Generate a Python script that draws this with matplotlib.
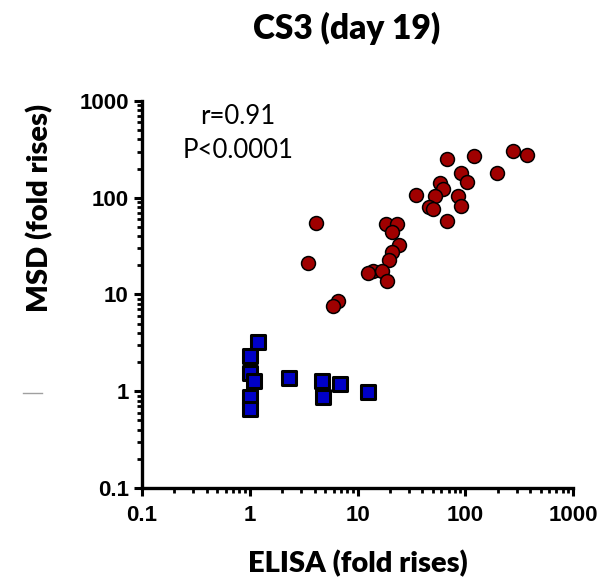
import matplotlib
matplotlib.use('Agg')
import matplotlib.pyplot as plt
from matplotlib.lines import Line2D
from matplotlib.ticker import LogLocator, FixedLocator, NullFormatter

# CS3 day 19: ELISA vs MSD fold rises
elisa_red = [68.1, 120.5, 275, 377, 196, 90.8, 103, 58.3, 62.6, 52.4,
             34.9, 86.2, 90.8, 46.4, 49.9, 68.1, 4.09, 18.3, 23.1, 21.0,
             24.4, 20.8, 19.7, 3.49, 14.0, 12.4, 16.8, 18.7, 6.55, 5.89]
msd_red = [249, 272, 306, 275, 179, 179, 147, 141, 122, 105,
           107, 105, 82.8, 80.8, 76.5, 57.5, 55.2, 53.2, 53.2, 44.6,
           32.5, 27.7, 22.7, 21.0, 17.6, 16.6, 17.5, 13.8, 8.57, 7.66]

elisa_blue = [1.20, 1.0, 1.0, 1.10, 2.30, 4.71, 6.88, 12.4, 1.0, 4.75, 1.0]
msd_blue = [3.21, 2.33, 1.53, 1.28, 1.36, 1.28, 1.18, 0.975, 0.88, 0.88, 0.66]

major_ticks = [0.1, 1, 10, 100, 1000]
tick_labels = ['0.1', '1', '10', '100', '1000']

calibri_like = 'Lato'
tick_font = 'Liberation Sans'

fig = plt.figure(figsize=(6.04, 5.8), dpi=100)
ax = fig.add_axes([0.2351, 0.1586, 0.7136, 0.6673])

ax.scatter(elisa_blue, msd_blue, marker='s', s=90, facecolor='#0000c8',
           edgecolor='black', linewidth=2.2, zorder=3)
ax.scatter(elisa_red, msd_red, marker='o', s=100, facecolor='#a00000',
           edgecolor='black', linewidth=1.1, zorder=4)

ax.set_xscale('log')
ax.set_yscale('log')
ax.set_xlim(0.1, 1000)
ax.set_ylim(0.1, 1000)

for axis in (ax.xaxis, ax.yaxis):
    axis.set_major_locator(FixedLocator(major_ticks))
    axis.set_minor_locator(LogLocator(base=10, subs=range(2, 10), numticks=20))
    axis.set_minor_formatter(NullFormatter())
ax.set_xticklabels(tick_labels)
ax.set_yticklabels(tick_labels)

for lab in ax.get_xticklabels() + ax.get_yticklabels():
    lab.set_fontfamily(tick_font)
    lab.set_fontweight('bold')
    lab.set_fontsize(16)

ax.spines['top'].set_visible(False)
ax.spines['right'].set_visible(False)
ax.spines['left'].set_linewidth(2.4)
ax.spines['bottom'].set_linewidth(2.4)
ax.tick_params(which='major', direction='out', length=5.5, width=2.2)
ax.tick_params(which='minor', direction='out', length=3.5, width=2.0)
ax.tick_params(axis='x', which='major', pad=7)
ax.tick_params(axis='y', which='major', pad=4)

ax.set_xlabel('ELISA (fold rises)', fontsize=21, fontweight='heavy',
              family=calibri_like, va='center')
ax.xaxis.set_label_coords(0.5, -0.194)
ax.set_ylabel('MSD (fold rises)', fontsize=21, fontweight='heavy',
              family=calibri_like, va='center')
ax.yaxis.set_label_coords(-0.237, 0.7235)

fig.text(0.5745, 0.9517, 'CS3 (day 19)', ha='center', va='center',
         fontsize=24, fontweight='heavy', family=calibri_like)

ax.text(0.223, 0.959, 'r=0.91', transform=ax.transAxes, ha='center',
        va='center', fontsize=18.5, family=calibri_like)
ax.text(0.223, 0.873, 'P<0.0001', transform=ax.transAxes, ha='center',
        va='center', fontsize=18.5, family=calibri_like)

# small grey dash left of the y axis in the original
fig.add_artist(Line2D([0.038, 0.0695], [0.3224, 0.3224], color='#a0a0a0',
                      linewidth=1, transform=fig.transFigure))

plt.savefig('out.png', dpi=100)
plt.close()
